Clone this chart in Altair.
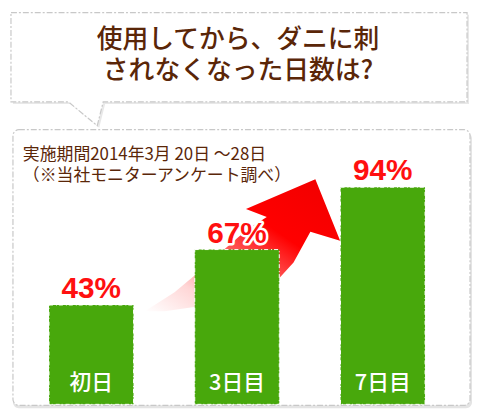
import altair as alt
import pandas as pd

# ---- data ----
categories = ["初日", "3日目", "7日目"]
values = [43, 67, 94]
value_labels = ["43%", "67%", "94%"]
title_lines = ["使用してから、ダニに刺", "されなくなった日数は?"]
note_lines = ["実施期間2014年3月 20日 ～28日", "（※当社モニターアンケート調べ）"]

BROWN = "#5a2608"
GREEN = "#48a80c"
RED = "#ff1010"
JP = "Noto Sans CJK JP"
OFF = 8  # page margin

df = pd.DataFrame({"cat": categories, "val": values, "lab": value_labels})
one = pd.DataFrame({"k": [0]})

# decorative outlines (page pixel coordinates)
bubble_pts = [(10, 10), (470, 10), (470, 100), (103, 100), (97, 124), (68, 100), (10, 100)]
arrow_pts = [(145, 311), (175, 292), (200, 271), (227, 247), (248, 229), (268, 216),
             (247, 208), (317, 178), (342, 240), (312, 231), (295, 262), (275, 284),
             (240, 297), (200, 306), (165, 311)]


def symbol(points):
    xs = [p[0] for p in points]
    ys = [p[1] for p in points]
    cx = (min(xs) + max(xs)) / 2
    cy = (min(ys) + max(ys)) / 2
    r = max(max(xs) - min(xs), max(ys) - min(ys)) / 2
    path = "M" + " L".join(f"{(x - cx) / r:.4f},{(y - cy) / r:.4f}" for x, y in points) + " Z"
    return path, cx - OFF, cy - OFF, (2 * r) ** 2


x_enc = alt.X("cat:N", sort=categories, axis=None,
              scale=alt.Scale(range=[9.5, 450.5], paddingInner=0.42, paddingOuter=0.21))
y_enc = alt.Y("val:Q", axis=None, scale=alt.Scale(domain=[0, 100], range=[397, 164]))

# panel shadow and panel
shadow = alt.Chart(one).mark_rect(fill="#e4e4e4", cornerRadius=6).encode(
    x=alt.value(12 - OFF), x2=alt.value(475 - OFF), y=alt.value(131 - OFF), y2=alt.value(409 - OFF))
panel = alt.Chart(one).mark_rect(fill="#ffffff", stroke="#c8c8c8", strokeWidth=1.2,
                                 strokeDash=[6, 2, 2, 2], cornerRadius=6).encode(
    x=alt.value(12 - OFF), x2=alt.value(473 - OFF), y=alt.value(128 - OFF), y2=alt.value(406 - OFF))

bp, bx, by, bs = symbol(bubble_pts)
bubble_shadow = alt.Chart(one).mark_point(shape=bp, size=bs, filled=True, fill="#e8e8e8",
                                          opacity=1, strokeWidth=0).encode(
    x=alt.value(bx + 2), y=alt.value(by + 2))
bubble = alt.Chart(one).mark_point(shape=bp, size=bs, filled=True, fill="#ffffff", opacity=1,
                                   stroke="#c8c8c8", strokeWidth=1.2,
                                   strokeDash=[6, 2, 2, 2]).encode(
    x=alt.value(bx), y=alt.value(by))

ap, ax_, ay_, as_ = symbol(arrow_pts)
grad = alt.Gradient(
    gradient="linear",
    stops=[alt.GradientStop(color="#ffffff", offset=0),
           alt.GradientStop(color="#ffd6d6", offset=0.2),
           alt.GradientStop(color="#ff5050", offset=0.47),
           alt.GradientStop(color="#ff0000", offset=0.64),
           alt.GradientStop(color="#f00000", offset=1)],
    x1=0, y1=1, x2=1, y2=0)
arrow = alt.Chart(one).mark_point(shape=ap, size=as_, filled=True, fill=grad, opacity=1,
                                  strokeWidth=0).encode(x=alt.value(ax_), y=alt.value(ay_))

bars = alt.Chart(df).mark_bar(color=GREEN, stroke="#ffffff", strokeWidth=1,
                              strokeDash=[4, 3, 1, 2]).encode(x=x_enc, y=y_enc)

lab_halo = alt.Chart(df).mark_text(font="Liberation Sans", fontSize=30, fontWeight="bold",
                                   dy=-16, baseline="middle", color="#ffffff", stroke="#ffffff",
                                   strokeWidth=5, strokeJoin="round").encode(
    x=x_enc, y=y_enc, text="lab:N")
labels = alt.Chart(df).mark_text(font="Liberation Sans", fontSize=30, fontWeight="bold",
                                 dy=-16, baseline="middle", color=RED).encode(
    x=x_enc, y=y_enc, text="lab:N")

cat_labels = alt.Chart(df).mark_text(font=JP, fontSize=22, fontWeight=500, color="#ffffff",
                                     baseline="middle").encode(
    x=x_enc, y=alt.value(384 - OFF), text="cat:N")

title = alt.Chart(one).mark_text(text=title_lines, font=JP, fontSize=26, fontWeight=500,
                                 lineHeight=31, color=BROWN, baseline="middle").encode(
    x=alt.value(239 - OFF), y=alt.value(38 - OFF))

notes = alt.Chart(one).mark_text(text=note_lines, font=JP, fontSize=17, lineHeight=21,
                                 color=BROWN, align="left", baseline="middle").encode(
    x=alt.value(22 - OFF), y=alt.value(154 - OFF))

chart = alt.layer(
    shadow, panel, bubble_shadow, bubble, arrow, bars, lab_halo, labels, cat_labels,
    title, notes
).properties(width=464, height=404, padding=0, background="#ffffff").configure_view(strokeWidth=0)

chart.save("out.html", embed_options={"renderer": "svg", "actions": False})
